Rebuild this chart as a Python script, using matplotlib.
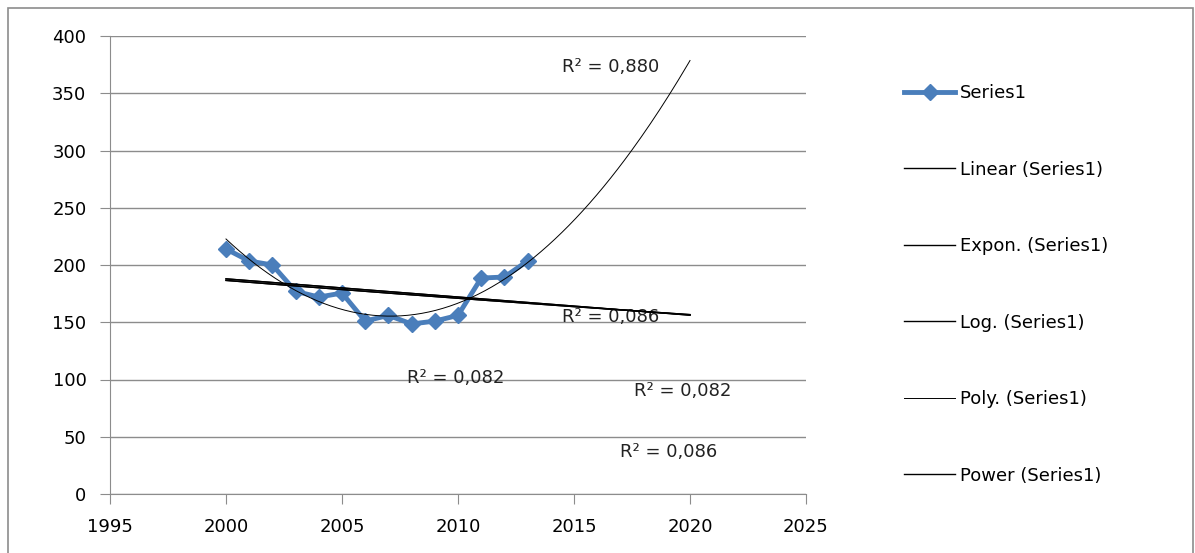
import numpy as np
import matplotlib.pyplot as plt
from matplotlib.patches import Rectangle

plt.rcParams['font.family'] = ['DejaVu Sans']

# data
years = [2000, 2001, 2002, 2003, 2004, 2005, 2006, 2007, 2008, 2009, 2010, 2011, 2012, 2013]
values = [214, 203.5, 200, 177, 172, 175.5, 151, 156, 148.5, 151, 156, 188.6, 189.5, 203.5]

r2_labels = ['R² = 0,880', 'R² = 0,086', 'R² = 0,082', 'R² = 0,082', 'R² = 0,086']
r2_x = [2016.6, 2016.6, 2009.9, 2019.7, 2019.1]
r2_y = [373, 155, 101, 90, 37]

x = np.array(years, dtype=float)
y = np.array(values, dtype=float)
xt = np.linspace(2000, 2020, 200)

# trendlines like Excel, forecast to 2020
lin = np.polyfit(x, y, 1)
exp_c = np.polyfit(x, np.log(y), 1)
log_c = np.polyfit(np.log(x), y, 1)
pow_c = np.polyfit(np.log(x), np.log(y), 1)
poly = np.polyfit(x - 2000, y, 2)

fig = plt.figure(figsize=(11.95, 5.53), dpi=100)
ax = fig.add_axes([110 / 1195, 1 - 494 / 553, 696 / 1195, 458 / 553])

ax.plot(x, y, color='#4a7ebb', lw=3.5, marker='D', ms=8.5, label='Series1', zorder=3)
ax.plot(xt, np.polyval(lin, xt), color='black', lw=1, label='Linear (Series1)', zorder=4)
ax.plot(xt, np.exp(np.polyval(exp_c, xt)), color='black', lw=1, label='Expon. (Series1)', zorder=4)
ax.plot(xt, np.polyval(log_c, np.log(xt)), color='black', lw=1, label='Log. (Series1)', zorder=4)
ax.plot(xt, np.polyval(poly, xt - 2000), color='black', lw=0.7, label='Poly. (Series1)', zorder=4)
ax.plot(xt, np.exp(np.polyval(pow_c, np.log(xt))), color='black', lw=1, label='Power (Series1)', zorder=4)

for t, tx, ty in zip(r2_labels, r2_x, r2_y):
    ax.text(tx, ty, t, ha='center', va='center', fontsize=13, color='#222222')

ax.set_xlim(1995, 2025)
ax.set_ylim(0, 400)
ax.set_xticks(range(1995, 2026, 5))
ax.set_yticks(range(0, 401, 50))
ax.grid(axis='y', color='#8c8c8c', lw=1)
ax.set_axisbelow(True)
for s in ['top', 'right']:
    ax.spines[s].set_visible(False)
for s in ['left', 'bottom']:
    ax.spines[s].set_color('#8c8c8c')
ax.tick_params(axis='both', color='#8c8c8c', length=7, labelsize=13, pad=10)

fig.legend(loc='upper left', bbox_to_anchor=(888 / 1195, 1 - 68 / 553), frameon=False,
           fontsize=13, labelspacing=3.24, handlelength=2.8, handletextpad=0.3)

fig.patches.append(Rectangle((8 / 1195, -0.02), 1185 / 1195, 1 - 8 / 553 + 0.02,
                             transform=fig.transFigure, fill=False, edgecolor='#8c8c8c', lw=1.2))

fig.savefig('out.png', dpi=100)
